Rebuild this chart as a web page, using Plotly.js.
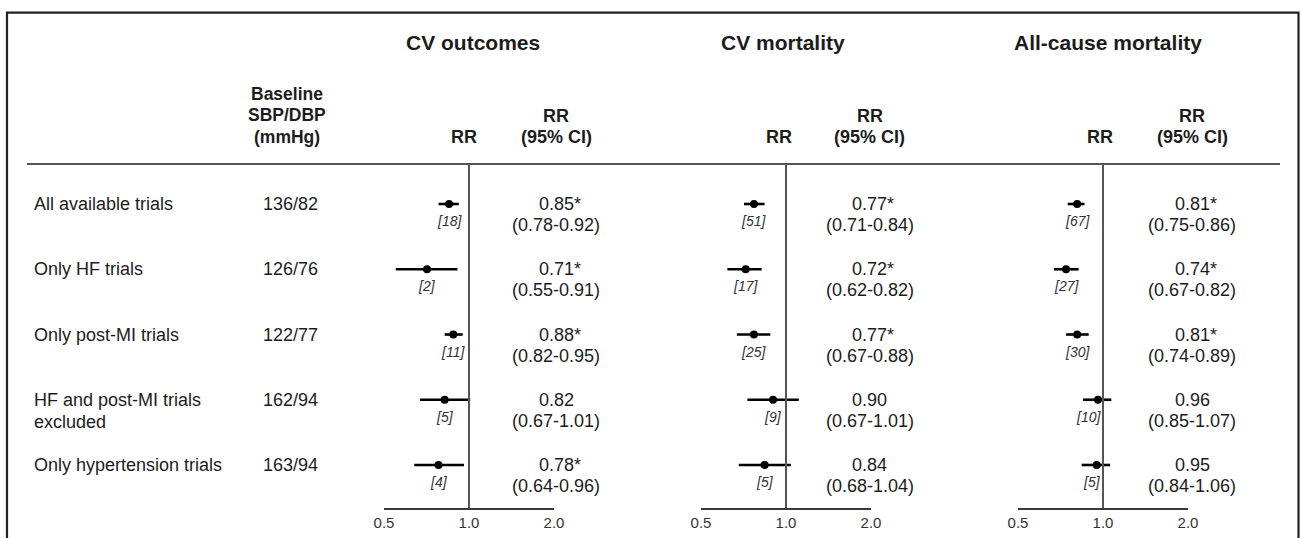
<!DOCTYPE html>
<html>
<head>
<meta charset="utf-8">
<script src="https://cdn.plot.ly/plotly-3.0.1.min.js"></script>
<style>html,body{margin:0;padding:0;background:#fff;}#chart{width:1300px;height:538px;}</style>
</head>
<body>
<div id="chart"></div>
<script>
// ---------------- DATA ----------------
const outcomeTitles = ['CV outcomes', 'CV mortality', 'All-cause mortality'];
const rowLabels = ['All available trials', 'Only HF trials', 'Only post-MI trials', 'HF and post-MI trials<br>excluded', 'Only hypertension trials'];
const baselineBP = ['136/82', '126/76', '122/77', '162/94', '163/94'];

// CV outcomes
const cvoRR  = [0.85, 0.71, 0.88, 0.82, 0.78];
const cvoLo  = [0.78, 0.55, 0.82, 0.67, 0.64];
const cvoHi  = [0.92, 0.91, 0.95, 1.01, 0.96];
const cvoCI  = ['(0.78-0.92)', '(0.55-0.91)', '(0.82-0.95)', '(0.67-1.01)', '(0.64-0.96)'];
const cvoSig = [true, true, true, false, true];
const cvoN   = [18, 2, 11, 5, 4];

// CV mortality (row 4 bar drawn as in the picture)
const cvmRR  = [0.77, 0.72, 0.77, 0.90, 0.84];
const cvmLo  = [0.71, 0.62, 0.67, 0.73, 0.68];
const cvmHi  = [0.84, 0.82, 0.88, 1.11, 1.04];
const cvmCI  = ['(0.71-0.84)', '(0.62-0.82)', '(0.67-0.88)', '(0.67-1.01)', '(0.68-1.04)'];
const cvmSig = [true, true, true, false, false];
const cvmN   = [51, 17, 25, 9, 5];

// All-cause mortality
const acmRR  = [0.81, 0.74, 0.81, 0.96, 0.95];
const acmLo  = [0.75, 0.67, 0.74, 0.85, 0.84];
const acmHi  = [0.86, 0.82, 0.89, 1.07, 1.06];
const acmCI  = ['(0.75-0.86)', '(0.67-0.82)', '(0.74-0.89)', '(0.85-1.07)', '(0.84-1.06)'];
const acmSig = [true, true, true, false, false];
const acmN   = [67, 27, 30, 10, 5];

const tickVals = [0.5, 1, 2];
const tickText = ['0.5', '1.0', '2.0'];
const xRange = [0.5, 2];

// ---------------- LAYOUT ----------------
const W = 1300, H = 538;
const px = x => x / W;
const py = y => 1 - y / H;
const FONT = '"Liberation Sans", Arial, Helvetica, sans-serif';
const TXT = '#1c1c1c';

const panels = [
  {rr: cvoRR, lo: cvoLo, hi: cvoHi, ci: cvoCI, sig: cvoSig, n: cvoN, dom: [384, 554], titleX: 473, rrX: 464, valX: 556},
  {rr: cvmRR, lo: cvmLo, hi: cvmHi, ci: cvmCI, sig: cvmSig, n: cvmN, dom: [701, 871], titleX: 783, rrX: 779, valX: 870},
  {rr: acmRR, lo: acmLo, hi: acmHi, ci: acmCI, sig: acmSig, n: acmN, dom: [1018, 1188], titleX: 1108, rrX: 1100, valX: 1192}
];

const rows = rowLabels.map((_, i) => i + 1);
const yTop = 164, yBot = 508;

const traces = [];
const annotations = [];
const shapes = [];
const layout = {
  width: W, height: H,
  margin: {l: 0, r: 0, t: 0, b: 0},
  paper_bgcolor: '#fff', plot_bgcolor: 'rgba(0,0,0,0)',
  showlegend: false,
  font: {family: FONT, color: TXT},
  yaxis: {domain: [py(yBot), py(yTop)], range: [5.659, 0.387], visible: false, fixedrange: true}
};

function txt(x, y, text, opts) {
  annotations.push(Object.assign({
    x: px(x), y: py(y), xref: 'paper', yref: 'paper', text: text, showarrow: false,
    xanchor: 'center', yanchor: 'middle',
    font: {family: FONT, size: 18, color: TXT}
  }, opts || {}));
}

panels.forEach((p, k) => {
  const ax = k === 0 ? 'x' : 'x' + (k + 1);
  const axName = k === 0 ? 'xaxis' : 'xaxis' + (k + 1);
  const pxPerLog = (p.dom[1] - p.dom[0]) / (Math.log10(xRange[1]) - Math.log10(xRange[0]));
  layout[axName] = {
    domain: [px(p.dom[0]), px(p.dom[1])], anchor: 'y', type: 'log',
    range: [Math.log10(xRange[0]), Math.log10(xRange[1])],
    showgrid: false, zeroline: false, showline: true, linecolor: '#3a3a3a', linewidth: 2,
    ticks: '', tickvals: tickVals, ticktext: tickText,
    tickfont: {family: FONT, size: 15, color: '#333'}, fixedrange: true
  };
  traces.push({
    type: 'scatter', mode: 'markers', xaxis: ax, yaxis: 'y',
    x: p.rr, y: rows,
    marker: {color: '#000', size: 8},
    error_x: {type: 'data', symmetric: false,
      array: p.rr.map((v, i) => p.hi[i] - v),
      arrayminus: p.rr.map((v, i) => v - p.lo[i]),
      color: '#000', thickness: 2.6, width: 0},
    hoverinfo: 'skip'
  });
  // reference line at RR = 1
  shapes.push({type: 'line', xref: ax, yref: 'paper', x0: 1, x1: 1, y0: py(yBot), y1: py(yTop),
    line: {color: '#555', width: 2}});
  // headers
  txt(p.titleX, 43, '<b>' + outcomeTitles[k] + '</b>', {font: {family: FONT, size: 21, color: TXT}});
  txt(p.rrX, 137, '<b>RR</b>');
  txt(p.valX, 116, '<b>RR</b>');
  txt(p.valX, 137, '<b>(95% CI)</b>');
  // rows
  p.rr.forEach((v, i) => {
    // keep the trial-count label left of the RR = 1 line
    const label = '[' + p.n[i] + ']';
    const halfW = (String(p.n[i]).length * 7.8 + 7.8) / 2;
    const d = Math.log10(v) * pxPerLog;           // offset of dot from the line, px
    const shift = (d + halfW > -3) ? (-3 - halfW - d) : 0;
    // annotation x on a log axis is given in log10 units
    annotations.push({x: Math.log10(v), y: rows[i], xref: ax, yref: 'y', text: '<i>' + label + '</i>',
      showarrow: false, xanchor: 'center', yanchor: 'middle', yshift: -17, xshift: shift,
      font: {family: FONT, size: 14, color: '#333'}});
    annotations.push({x: px(p.valX), y: rows[i], xref: 'paper', yref: 'y',
      text: v.toFixed(2) + (p.sig[i] ? '*' : ''), showarrow: false,
      xanchor: 'center', yanchor: 'middle', xshift: p.sig[i] ? 3.5 : 0,
      font: {family: FONT, size: 18, color: TXT}});
    annotations.push({x: px(p.valX), y: rows[i], xref: 'paper', yref: 'y',
      text: p.ci[i], showarrow: false, xanchor: 'center', yanchor: 'middle', yshift: -21,
      font: {family: FONT, size: 18, color: TXT}});
  });
});

// left columns
txt(287, 94, '<b>Baseline</b>', {font: {family: FONT, size: 17.5, color: TXT}});
txt(287, 115, '<b>SBP/DBP</b>', {font: {family: FONT, size: 17.5, color: TXT}});
txt(287, 137, '<b>(mmHg)</b>', {font: {family: FONT, size: 17.5, color: TXT}});

rowLabels.forEach((lab, i) => {
  lab.split('<br>').forEach((line, j) => {
    annotations.push({x: px(32), y: rows[i], xref: 'paper', yref: 'y', text: line,
      showarrow: false, xanchor: 'left', yanchor: 'middle', yshift: -22 * j,
      font: {family: FONT, size: 18, color: TXT}});
  });
  annotations.push({x: px(290), y: rows[i], xref: 'paper', yref: 'y', text: baselineBP[i],
    showarrow: false, xanchor: 'center', yanchor: 'middle',
    font: {family: FONT, size: 18, color: TXT}});
});

// header rule and frame
shapes.push({type: 'line', xref: 'paper', yref: 'paper', x0: px(27), x1: px(1280), y0: py(yTop), y1: py(yTop),
  line: {color: '#555', width: 2}});
shapes.push({type: 'rect', xref: 'paper', yref: 'paper', x0: px(7), x1: px(1298.5), y0: py(560), y1: py(12.7),
  line: {color: '#222', width: 2.2}, fillcolor: 'rgba(0,0,0,0)'});

layout.annotations = annotations;
layout.shapes = shapes;

Plotly.newPlot('chart', traces, layout, {staticPlot: true, displayModeBar: false});
</script>
</body>
</html>
